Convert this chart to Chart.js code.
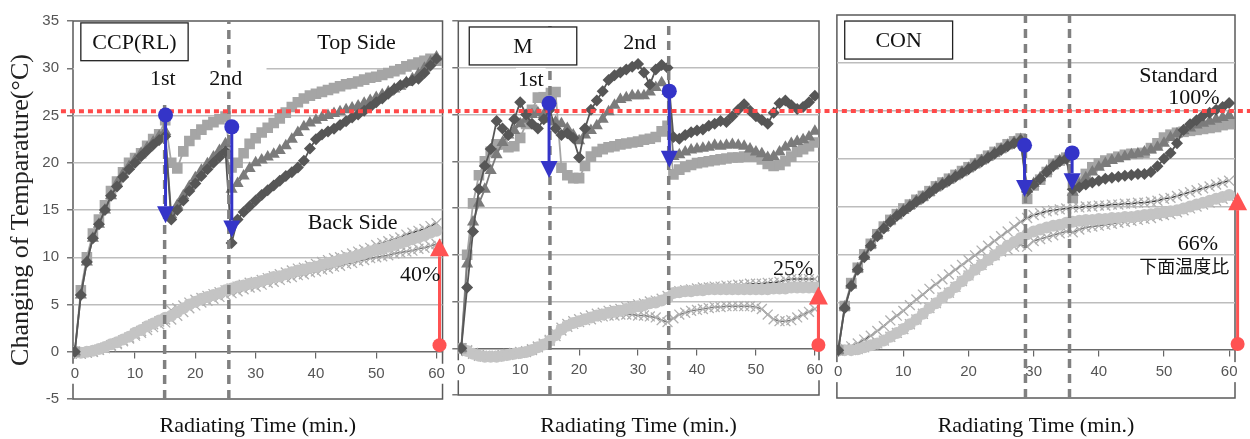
<!DOCTYPE html>
<html>
<head>
<meta charset="utf-8">
<script src="https://cdn.jsdelivr.net/npm/chart.js@4.4.1/dist/chart.umd.min.js"></script>
<style>
html, body { margin: 0; padding: 0; background: #fff; }
#wrap { position: relative; width: 1250px; height: 439px; overflow: hidden; }
canvas { position: absolute; top: 0; }
</style>
</head>
<body>
<div id="wrap">
  <canvas id="g_ccp" width="452" height="439" style="left:0px"></canvas>
  <canvas id="g_m" width="382" height="439" style="left:450px"></canvas>
  <canvas id="g_con" width="423" height="439" style="left:827px"></canvas>
</div>
<script>
Chart.defaults.font.family = "'Liberation Sans', Arial, sans-serif";
Chart.defaults.color = '#555';
const serif = "'Liberation Serif', 'Times New Roman', serif";

// time axis (min.)
const minutes = [0,1,2,3,4,5,6,7,8,9,10,11,12,13,14,15,16,17,18,19,20,21,22,23,24,25,26,27,28,29,30,
  31,32,33,34,35,36,37,38,39,40,41,42,43,44,45,46,47,48,49,50,51,52,53,54,55,56,57,58,59,60];

// CCP(RL) - top side
const ccpSquare = [0,6.5,10,12.5,14,15.5,17,18,19,20,20.5, 21,21.8,22.5,23,24.5,20,19.4,21.2,22.3,23,
  23.5,24,24.3,24.6,24.9,19.5,20,21,22,22.6, 23.2,23.7,24.2,24.7,25.3,25.9,26.4,26.8,27.1,27.3,
  27.5,27.7,27.9,28.1,28.3,28.4,28.6,28.8,29,29.1, 29.3,29.5,29.7,29.9,30.2,30.4,30.6,30.8,31,30.8];
const ccpTriangle = [0,6,9.5,12,13.5,15,16.5,17.8,18.8,19.6,20.3, 21,21.6,22.2,22.8,23.3,14.5,15.5,16.5,17.5,18.4,
  19.2,19.9,20.6,21.3,22,17.2,17.8,18.6,19.4,20, 20.3,20.6,20.9,21.3,21.8,22.5,23.2,23.8,24.2,24.5,
  24.8,25,25.2,25.4,25.6,25.8,26,26.3,26.6,26.9, 27.2,27.5,27.8,28.1,28.5,28.9,29.4,30,30.7,31.2];
const ccpDiamond = [0,6,9.5,12,13.5,15,16.5,17.5,18.5,19.3,20, 20.7,21.3,21.9,22.4,22.8,14,15,16,17,17.8,
  18.6,19.3,20,20.6,21.2,11.5,14,14.8,15.4,16, 16.6,17.1,17.6,18.1,18.6,19,19.5,20.2,21.5,22.5,
  23,23.3,23.6,24,24.4,24.8,25.1,25.5,25.9,26.4, 26.8,27.3,27.8,28.2,28.5,28.7,28.9,29.5,30.3,31];
// CCP(RL) - back side
const ccpBackUpper = [0,-0.2,-0.1,0,0.2,0.4,0.7,0.9,1.2,1.5,1.9, 2.2,2.6,2.9,3.2,3.4,4.4,4.6,4.9,5.2,5.5,
  5.7,5.9,6.1,6.3,6.5,6.7,6.9,7.1,7.3,7.4, 7.6,7.8,8,8.2,8.4,8.6,8.8,8.9,9.1,9.3,
  9.5,9.7,9.9,10,10.2,10.4,10.6,10.8,11,11.3, 11.5,11.7,11.9,12.1,12.4,12.6,12.8,13,13.3,13.6];
const ccpBackCircle = [0,-0.1,0,0.1,0.3,0.5,0.8,1,1.3,1.6,2, 2.3,2.7,3,3.3,3.6,3.8,4.2,4.6,5,5.3,
  5.6,5.8,6,6.2,6.5,6.7,6.9,7,7.2,7.3, 7.5,7.7,7.9,8,8.2,8.4,8.6,8.7,8.9,9,
  9.2,9.4,9.5,9.7,9.9,10,10.2,10.4,10.6,10.8, 10.9,11.1,11.3,11.5,11.7,11.9,12.1,12.3,12.6,12.8];
const ccpBackLower = [0,-0.2,-0.1,0,0.2,0.4,0.6,0.8,1.1,1.4,1.7, 2,2.3,2.6,2.9,3.1,3.4,3.8,4.2,4.6,4.9,
  5.2,5.4,5.6,5.8,6,6.2,6.4,6.6,6.8,6.9, 7.1,7.3,7.4,7.6,7.8,7.9,8.1,8.2,8.4,8.5,
  8.7,8.8,9,9.1,9.3,9.4,9.6,9.7,9.9,10, 10.1,10.2,10.4,10.5,10.6,10.7,10.9,11,11.2,11.4];

// M - top side
const mSquare = [0,10,15.5,18.5,20,21,21.8,21.8,21.5,21.6,22.5, 24,25.5,26.8,27.2,27.3,27.4,19.3,18.5,18.2,18.2,
  19.5,20.5,21,21.3,21.5,21.6,21.8,21.9,22,22.1, 22.3,22.4,22.6,23.2,23.8,18.6,19.1,19.4,19.6,19.8,
  19.9,20,20.1,20.2,20.3,20.4,20.4,20.5,20.5,20.5, 20.2,19.7,19.5,19.6,20,20.5,21,21.3,21.6,22];
const mTriangle = [0,9,13.5,15.5,17,19,20.7,22,22.8,23.3,24, 24.5,25,25.2,25,24.5,24.2,24,23.5,22.8,22.2,
  22.8,23.3,23.8,24.5,25.3,26,26.6,26.8,27,27, 27,27.4,27.9,28.4,27.5,20.5,20.7,21,21.2,21.3,
  21.4,21.5,21.7,21.6,21.7,21.8,21.7,21.6,21.3,21, 20.8,20.4,20.5,21,21.5,21.9,22.1,22.3,22.6,23.2];
const mDiamond = [0,6.5,12.5,17,19.5,21.3,24.3,23.5,22.8,24.5,26.3, 25,24,23.5,24.5,25.5,23.5,22.8,23,22.5,20.4,
  23.5,25.5,26.5,27.5,28.7,29.2,29.5,29.8,30.1,30.4, 29.5,28.2,29.8,30.3,30,22.6,22.4,22.8,23.1,23.3,
  23.4,23.8,24,24.3,24.2,24.8,25.5,26.1,25.4,24.8, 24.4,24,25.2,26.2,26.5,26,25.6,25.8,26.3,27];
// M - back side
const mBackUpper = [0,-0.2,-0.5,-0.7,-0.8,-0.8,-0.8,-0.7,-0.6,-0.5,-0.4, -0.3,-0.1,0.2,0.5,0.9,1.6,2.2,2.6,2.9,3.1,
  3.3,3.5,3.7,3.8,4,4.1,4.2,4.4,4.5,4.7, 4.8,5,5.1,5.3,5.6,6,6.1,6.2,6.3,6.4,
  6.5,6.5,6.6,6.6,6.7,6.7,6.8,6.8,6.9,6.9, 6.9,7,7,7.1,7.3,7.4,7.4,7.4,7.4,7.4];
const mBackCircle = [0,-0.3,-0.6,-0.8,-0.9,-0.9,-0.9,-0.8,-0.7,-0.6,-0.5, -0.4,-0.2,0.1,0.4,0.8,1.4,2,2.4,2.7,2.9,
  3.1,3.3,3.5,3.6,3.8,3.9,4,4.2,4.3,4.5, 4.6,4.8,4.9,5.1,5.4,5.9,6,6.1,6.1,6.2,
  6.2,6.3,6.3,6.3,6.3,6.3,6.3,6.3,6.3,6.3, 6.3,6.3,6.4,6.4,6.4,6.5,6.5,6.5,6.5,6.5];
const mBackLower = [0,-0.3,-0.6,-0.8,-0.9,-0.9,-0.9,-0.8,-0.7,-0.6,-0.5, -0.4,-0.2,0.1,0.4,0.8,1.3,1.9,2.3,2.6,2.8,
  3,3.1,3.3,3.4,3.5,3.5,3.6,3.6,3.6,3.5, 3.5,3.4,3.3,3,2.8,3.2,3.6,3.8,4,4.1,
  4.2,4.3,4.4,4.4,4.5,4.5,4.5,4.5,4.5,4.4, 4.2,3.6,3.1,2.9,2.9,3,3.3,3.6,3.9,4.2];

// CON - top side
const conSquare = [0,4.6,7,8.6,10,11.1,12.1,12.9,13.6,14.2,14.8, 15.2,15.7,16.1,16.6,17.1,17.5,17.9,18.3,18.7,19.1,
  19.5,19.9,20.3,20.7,21.1,21.5,21.8,22.1,15.8,17.2, 17.8,18.6,19.4,19.8,20.1,15.9,17.6,18.4,19.1,19.5,
  19.8,20,20.2,20.4,20.5,20.5,20.6,21.1,21.6,22.2, 22.5,22.7,22.8,22.9,23,23.1,23.2,23.3,23.5,23.6];
const conTriangle = [0,4.5,6.8,8.5,9.8,11,12,12.8,13.5,14.1,14.6, 15.1,15.6,16,16.5,17,17.4,17.8,18.2,18.6,19,
  19.4,19.8,20.2,20.6,21,21.4,21.7,22,16.8,17.4, 18,18.7,19.3,19.8,20.2,16.5,17.3,18,18.6,19.1,
  19.5,19.8,20,20.2,20.4,20.5,20.7,20.9,21.2,21.6, 22.2,22.6,22.9,23.2,23.5,23.7,23.9,24.1,24.3,24.5];
const conDiamond = [0,4.4,6.7,8.4,9.7,10.9,11.9,12.7,13.4,14,14.5, 15,15.5,15.9,16.4,16.9,17.3,17.7,18.1,18.5,18.9,
  19.3,19.7,20.1,20.5,20.9,21.3,21.6,21.9,16.6,17.3, 17.9,18.6,19.2,19.7,20,16.8,17,17.3,17.5,17.7,
  17.9,18,18.1,18.2,18.3,18.4,18.4,18.6,19.2,20, 20.6,21.6,23,23.6,24,24.5,24.8,25.1,25.4,25.8];
// CON - back side
const conBackUpper = [0,0.2,0.4,0.7,1.1,1.5,2,2.5,3.1,3.6,4.1, 4.7,5.3,5.8,6.4,6.9,7.4,7.9,8.4,8.9,9.4,
  9.9,10.4,10.9,11.4,11.9,12.4,12.9,13.4,13.8,14.1, 14.3,14.5,14.6,14.7,14.8,14.9,14.9,15,15,15.1,
  15.1,15.2,15.2,15.3,15.3,15.4,15.4,15.5,15.6,15.8, 15.9,16.1,16.3,16.5,16.7,16.9,17.1,17.3,17.5,17.7];
const conBackCircle = [0,0,0,0.1,0.3,0.5,0.7,1,1.4,1.8,2.2, 2.7,3.2,3.8,4.4,4.9,5.5,6,6.6,7.2,7.8,
  8.4,8.9,9.4,9.9,10.4,10.9,11.3,11.7,12.1,12.4, 12.6,12.8,13,13.1,13.3,13.4,13.5,13.6,13.6,13.7,
  13.7,13.8,13.8,13.9,13.9,14,14.1,14.2,14.3,14.4, 14.5,14.6,14.8,15,15.2,15.4,15.6,15.8,16,16.2];
const conBackLower = [0,0,0,0.1,0.3,0.5,0.7,1,1.4,1.8,2.2, 2.7,3.2,3.8,4.4,4.9,5.5,6,6.6,7.2,7.8,
  8.4,8.9,9.4,9.9,10.3,10.5,10.8,11,10.8,11.4, 11.6,11.8,12,12.2,12.4,12.3,12.6,12.8,12.9,13,
  13.1,13.2,13.3,13.4,13.5,13.6,13.7,13.8,14,14.1, 14.2,14.4,14.6,14.8,15,15.2,15.4,15.6,15.8,16];

// cooling events: [minute, top of dashed line]
const ccpEvents = [[14.9, 26.6], [25.55, 35]];
const mEvents = [[15.05, 35], [35.2, 35]];
const conEvents = [[28.74, 35], [35.5, 35]];
// temperature drops: [minute, from, to]
const ccpDrops = [[15.05, 25.05, 13.6], [26.04, 23.8, 12.1]];
const mDrops = [[14.9, 26.2, 18.2], [35.3, 27.5, 19.3]];
const conDrops = [[28.6, 21.4, 16.0], [35.9, 20.6, 16.7]];
// back side rise at 60 min: [minute, from, to]
const ccpRise = [60.5, 0.7, 12.0];
const mRise = [60.6, 0.35, 6.6];
const conRise = [61.3, 0.64, 16.5];
// standard level (top side, CON)
const ccpStandard = 25.45;
const mStandard = 25.37;
const conStandard = 24.97;

function pairs(xs, ys) {
  return xs.map(function(x, i) { return {x: x, y: ys[i]}; });
}

function marked(ys, style, color, radius, order) {
  return {data: pairs(minutes, ys), borderColor: color, borderWidth: 1.8, pointStyle: style,
    pointRadius: radius, pointBackgroundColor: color, pointBorderColor: color, pointBorderWidth: 0, order: order};
}

function crossed(ys, lineColor, order) {
  return {data: pairs(minutes, ys), borderColor: lineColor, borderWidth: 1.5, pointStyle: 'crossRot',
    pointRadius: 7, pointBorderColor: '#b0b0b0', pointBorderWidth: 1.3, order: order};
}

function drawArrow(ctx, x, y0, y1, color, dotR, headW, headH) {
  const dir = y1 > y0 ? 1 : -1;
  ctx.save();
  ctx.strokeStyle = color;
  ctx.fillStyle = color;
  ctx.lineWidth = 3;
  ctx.beginPath();
  ctx.moveTo(x, y0);
  ctx.lineTo(x, y1 - dir * headH);
  ctx.stroke();
  ctx.beginPath();
  ctx.arc(x, y0, dotR, 0, Math.PI * 2);
  ctx.fill();
  ctx.beginPath();
  ctx.moveTo(x, y1);
  ctx.lineTo(x - headW / 2, y1 - dir * headH);
  ctx.lineTo(x + headW / 2, y1 - dir * headH);
  ctx.closePath();
  ctx.fill();
  ctx.restore();
}

const panels = {};

const decor = {
  id: 'decor',
  beforeDraw(chart) {
    const a = chart.chartArea, ctx = chart.ctx;
    ctx.save();
    ctx.strokeStyle = '#5a5a5a';
    ctx.lineWidth = 1.5;
    ctx.strokeRect(a.left, a.top, a.right - a.left, a.bottom - a.top);
    ctx.restore();
  },
  beforeDatasetsDraw(chart) {
    const p = panels[chart.canvas.id], ctx = chart.ctx;
    const xs = chart.scales.x, ys = chart.scales.y;
    ctx.save();
    ctx.fillStyle = '#fff';
    (p.masks || []).forEach(function(m) {
      const x0 = Math.max(xs.getPixelForValue(m[0]), chart.chartArea.left + 1);
      const x1 = xs.getPixelForValue(m[1]);
      const y0 = ys.getPixelForValue(m[3]), y1 = ys.getPixelForValue(m[2]);
      ctx.fillRect(x0, y0, x1 - x0, y1 - y0);
    });
    ctx.restore();
  },
  afterDatasetsDraw(chart) {
    const p = panels[chart.canvas.id], ctx = chart.ctx;
    const xs = chart.scales.x, ys = chart.scales.y;
    p.drops.forEach(function(d) {
      drawArrow(ctx, xs.getPixelForValue(d[0]), ys.getPixelForValue(d[1]), ys.getPixelForValue(d[2]),
        '#3434c8', 7.5, 17, 17);
    });
    const r = p.rise;
    drawArrow(ctx, xs.getPixelForValue(r[0]), ys.getPixelForValue(r[1]), ys.getPixelForValue(r[2]),
      '#ff5252', 7, 19, 18);
  },
  afterDraw(chart) {
    const p = panels[chart.canvas.id], ctx = chart.ctx, a = chart.chartArea;
    const xs = chart.scales.x, ys = chart.scales.y;
    ctx.save();
    ctx.beginPath();
    ctx.rect(a.left, a.top, a.right - a.left, a.bottom - a.top);
    ctx.clip();
    ctx.textAlign = 'center';
    ctx.textBaseline = 'middle';
    p.boxes.forEach(function(b) {
      const x0 = xs.getPixelForValue(b.x0), x1 = xs.getPixelForValue(b.x1);
      const y0 = ys.getPixelForValue(b.y1), y1 = ys.getPixelForValue(b.y0);
      ctx.fillStyle = '#fff';
      ctx.fillRect(x0, y0, x1 - x0, y1 - y0);
      ctx.strokeStyle = '#222';
      ctx.lineWidth = 1.3;
      ctx.strokeRect(x0, y0, x1 - x0, y1 - y0);
      ctx.fillStyle = '#111';
      ctx.font = '22px ' + serif;
      ctx.fillText(b.text, (x0 + x1) / 2, (y0 + y1) / 2 + 1);
    });
    p.labels.forEach(function(l) {
      const x = xs.getPixelForValue(l.x), y = ys.getPixelForValue(l.y);
      ctx.font = (l.size || 22) + 'px ' + (l.family || serif);
      if (l.bg) {
        const w = ctx.measureText(l.text).width + 4;
        ctx.fillStyle = '#fff';
        ctx.fillRect(x - w / 2, y - 12, w, 24);
      }
      ctx.fillStyle = '#111';
      ctx.fillText(l.text, x, y);
    });
    ctx.restore();
  }
};

function makePanel(id, p) {
  panels[id] = p;
  const datasets = [
    crossed(p.back[2], '#7a7a7a', 9),
    crossed(p.back[0], '#3c3c3c', 8),
    marked(p.back[1], 'circle', '#c4c4c4', 6, 7),
    marked(p.top[0], 'rect', '#a5a5a5', 7.5, 6),
    marked(p.top[1], 'triangle', '#7b7b7b', 7, 5),
    marked(p.top[2], 'rectRot', '#565656', 6, 4)
  ];
  p.events.forEach(function(e) {
    datasets.push({data: [{x: e[0], y: -5}, {x: e[0], y: e[1]}], borderColor: '#808080', borderWidth: 3.5,
      borderDash: [9, 6], pointRadius: 0, order: 2});
  });
  datasets.push({data: [{x: p.xMin - 2, y: p.standard}, {x: p.xMax + 4, y: p.standard}], borderColor: '#ff4a4a',
    borderWidth: 4, borderDash: [5, 4], pointRadius: 0, clip: false, order: 1});

  new Chart(document.getElementById(id), {
    type: 'line',
    data: {datasets: datasets},
    options: {
      responsive: false,
      animation: false,
      events: [],
      layout: {padding: {left: 0, right: p.padRight, top: p.padTop, bottom: 0}},
      plugins: {
        legend: {display: false},
        tooltip: {enabled: false},
        title: {display: true, position: 'bottom', fullSize: false, text: 'Radiating Time (min.)', color: '#111',
          font: {family: serif, size: 22, weight: 'normal'}, padding: {top: p.titlePad, bottom: 0}}
      },
      scales: {
        x: {
          type: 'linear', min: p.xMin, max: p.xMax, position: {y: 0},
          ticks: {stepSize: 10, includeBounds: false, maxRotation: 0, color: '#555', font: {size: 15}, padding: 7,
            showLabelBackdrop: true, backdropColor: '#fff', backdropPadding: {top: 1, bottom: 1, left: 2, right: 2}},
          grid: {drawOnChartArea: false, drawTicks: true, tickLength: 6, color: '#666', lineWidth: 1.2},
          border: {display: true, color: '#6a6a6a', width: 1.5}
        },
        y: {
          type: 'linear', min: -5, max: 35,
          ticks: {stepSize: 5, display: p.showY, color: '#555', font: {size: 15}, padding: 8},
          grid: {
            color: function(c) {
              const v = c.tick.value;
              return (v === -5 || v === 35 || v === 0) ? 'rgba(0,0,0,0)' : '#bdbdbd';
            },
            lineWidth: 1.5, drawTicks: p.yTicks, tickLength: 6, tickColor: '#777'
          },
          border: {display: false},
          title: {display: p.showY, text: 'Changing of Temparature(°C)', color: '#222',
            font: {family: serif, size: 26, weight: 'normal'}, padding: {top: 6, bottom: 0}},
          afterFit: function(s) { s.width = p.yWidth; }
        }
      }
    },
    plugins: [decor]
  });
}

makePanel('g_ccp', {
  xMin: -0.3, xMax: 61, yWidth: 73, padRight: 9, padTop: 21, titlePad: 13.6, showY: true, yTicks: true,
  top: [ccpSquare, ccpTriangle, ccpDiamond], back: [ccpBackUpper, ccpBackCircle, ccpBackLower],
  events: ccpEvents, drops: ccpDrops, rise: ccpRise, standard: ccpStandard,
  masks: [[-0.3, 31.8, 29.6, 30.4]],
  boxes: [{text: 'CCP(RL)', x0: 1.0, x1: 18.8, y0: 30.8, y1: 34.8}],
  labels: [
    {text: '1st', x: 14.6, y: 28.8, bg: true},
    {text: '2nd', x: 25.05, y: 28.8, bg: true},
    {text: 'Top Side', x: 46.75, y: 32.6},
    {text: 'Back Side', x: 46.1, y: 13.6},
    {text: '40%', x: 57.3, y: 8.1}
  ]
});

makePanel('g_m', {
  xMin: -0.5, xMax: 60.7, yWidth: 7, padRight: 13, padTop: 21, titlePad: 17.6, showY: false, yTicks: true,
  top: [mSquare, mTriangle, mDiamond], back: [mBackUpper, mBackCircle, mBackLower],
  events: mEvents, drops: mDrops, rise: mRise, standard: mStandard,
  masks: [],
  boxes: [{text: 'M', x0: 1.36, x1: 19.6, y0: 30.3, y1: 34.36}],
  labels: [
    {text: '1st', x: 11.8, y: 28.7, bg: true},
    {text: '2nd', x: 30.3, y: 32.6, bg: true},
    {text: '25%', x: 56.3, y: 8.5}
  ]
});

makePanel('g_con', {
  xMin: -0.2, xMax: 60.9, yWidth: 9, padRight: 15, padTop: 15, titlePad: 14.6, showY: false, yTicks: false,
  top: [conSquare, conTriangle, conDiamond], back: [conBackUpper, conBackCircle, conBackLower],
  events: conEvents, drops: conDrops, rise: conRise, standard: conStandard,
  masks: [],
  boxes: [{text: 'CON', x0: 1.0, x1: 17.56, y0: 30.4, y1: 34.37}],
  labels: [
    {text: 'Standard', x: 52.2, y: 28.6},
    {text: '100%', x: 54.6, y: 26.3},
    {text: '66%', x: 55.2, y: 11.1},
    {text: '下面温度比', x: 53.1, y: 8.8, size: 18, family: "'Noto Sans CJK JP', sans-serif"}
  ]
});
</script>
</body>
</html>
